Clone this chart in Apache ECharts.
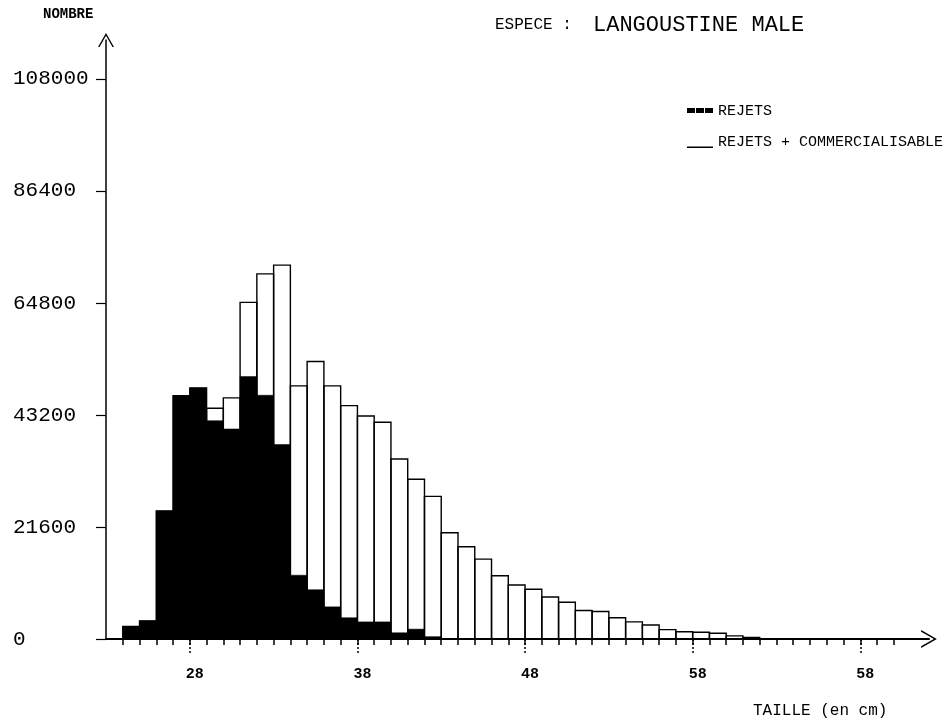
<!DOCTYPE html>
<html>
<head>
<meta charset="utf-8">
<script src="https://cdn.jsdelivr.net/npm/echarts@6/dist/echarts.min.js"></script>
<style>
html,body{margin:0;padding:0;background:#fff;}
#chart{width:949px;height:725px;}
</style>
</head>
<body>
<div id="chart"></div>
<script>
// Size classes (left edge of each 1-unit bin)
const sizes = [24,25,26,27,28,29,30,31,32,33,34,35,36,37,38,39,40,41,42,43,44,45,46,47,48,49,50,51,52,53,54,55,56,57,58,59,60,61];
// Black bars: REJETS
const rejets = [2400,3500,24700,46900,48400,42100,40500,50600,47000,37500,12300,9500,6200,4100,3300,3300,1200,1900,450,0,0,0,0,0,0,0,0,0,0,0,0,0,0,0,0,0,0,0];
// Outlined bars: REJETS + COMMERCIALISABLE
const totals = [2400,3500,24700,46900,48400,44500,46500,64900,70400,72100,48800,53500,48800,45000,43000,41800,34700,30800,27500,20500,17800,15400,12200,10400,9600,8100,7100,5500,5300,4100,3300,2700,1800,1400,1300,1100,600,300];

// Axis ticks and labels
const yTickValues = [0,21600,43200,64800,86400,108000];
const xLabelValues = [28,38,48,58,68];
const xLabelTexts = ['28','38','48','58','58'];
const xMinorTicks = [];
for (let t = 24; t <= 70; t++) xMinorTicks.push(t);

const FONT = 'Liberation Mono';
const arrowPath = 'path://M8,0 L16,14 L14.5,14 L8,2.7 L1.5,14 L0,14 Z';
const iconRejets = 'path://M0,0 L0.01,0 L0.01,12 L0,12 Z M0,3 L8,3 L8,8 L0,8 Z M9,3 L17,3 L17,8 L9,8 Z M18,3 L26,3 L26,8 L18,8 Z';
const iconTotal = 'path://M0,0 L0.01,0 L0.01,12 L0,12 Z M0,10.5 L26,10.5 L26,12 L0,12 Z';

function binRect(api, filled) {
  const x = api.value(0), v = api.value(1);
  if (!(v > 0)) return null;
  const p0 = api.coord([x, 0]);
  const p1 = api.coord([x + 1, v]);
  return {
    type: 'rect',
    shape: { x: p0[0], y: p1[1], width: p1[0] - p0[0], height: p0[1] - p1[1] },
    style: filled ? { fill: '#000', stroke: '#000', lineWidth: 0.5 }
                  : { fill: 'none', stroke: '#000', lineWidth: 1.4 }
  };
}

const chart = echarts.init(document.getElementById('chart'), null, { renderer: 'canvas' });
const option = {
  animation: false,
  backgroundColor: '#fff',
  textStyle: { fontFamily: FONT, color: '#000' },
  title: [
    { text: 'NOMBRE', left: 43, top: 7, padding: 0,
      textStyle: { fontFamily: FONT, fontSize: 14, fontWeight: 'bold', color: '#000' } },
    { text: 'ESPECE :', left: 495, top: 17, padding: 0,
      textStyle: { fontFamily: FONT, fontSize: 16, fontWeight: 'normal', color: '#000' } },
    { text: 'LANGOUSTINE MALE', left: 593, top: 14, padding: 0,
      textStyle: { fontFamily: FONT, fontSize: 22, fontWeight: 'normal', color: '#000' } },
    { text: 'TAILLE (en cm)', left: 753, top: 703, padding: 0,
      textStyle: { fontFamily: FONT, fontSize: 16, fontWeight: 'normal', color: '#000' } }
  ],
  legend: {
    orient: 'vertical',
    left: 687,
    top: 103,
    padding: 0,
    itemWidth: 26,
    itemHeight: 12,
    itemGap: 15,
    selectedMode: false,
    textStyle: { fontFamily: FONT, fontSize: 15, color: '#000', lineHeight: 16 },
    data: [
      { name: 'REJETS', icon: iconRejets, itemStyle: { color: '#000' } },
      { name: 'REJETS + COMMERCIALISABLE', icon: iconTotal, itemStyle: { color: '#000' } }
    ]
  },
  grid: { left: 106, right: 20, top: 40, bottom: 86, containLabel: false },
  xAxis: [
    {
      type: 'value', min: 23, max: 72.1, position: 'bottom',
      axisLine: { show: true, lineStyle: { color: '#000', width: 2 },
                  symbol: ['none', arrowPath], symbolSize: [18, 16] },
      axisTick: { show: true, customValues: xMinorTicks, length: 6,
                  lineStyle: { color: '#000', width: 1.5 } },
      axisLabel: { show: false },
      splitLine: { show: false }
    },
    {
      type: 'value', min: 23, max: 72.1, position: 'bottom',
      axisLine: { show: false },
      axisTick: { show: true, customValues: xLabelValues, length: 16,
                  lineStyle: { color: '#000', width: 1.5, type: [2, 2] } },
      axisLabel: {
        show: true, customValues: xLabelValues,
        formatter: function (v) { const i = xLabelValues.indexOf(v); return i >= 0 ? xLabelTexts[i] : ''; },
        margin: 28, padding: [0, 0, 0, 10],
        fontFamily: FONT, fontSize: 15, fontWeight: 'bold', color: '#000'
      },
      splitLine: { show: false }
    }
  ],
  yAxis: {
    type: 'value', min: 0, max: 115500, interval: 21600,
    axisLine: { show: true, lineStyle: { color: '#000', width: 1.5 },
                symbol: ['none', arrowPath], symbolSize: [16, 16] },
    axisTick: { show: true, customValues: yTickValues, length: 10,
                lineStyle: { color: '#000', width: 1.2 } },
    axisLabel: {
      customValues: yTickValues,
      formatter: function (v) { return String(v); },
      align: 'left', margin: 93, padding: [0, 0, 10, 0],
      fontFamily: FONT, fontSize: 21, color: '#000'
    },
    splitLine: { show: false }
  },
  series: [
    {
      name: 'REJETS + COMMERCIALISABLE',
      type: 'custom',
      xAxisIndex: 0, yAxisIndex: 0,
      renderItem: function (params, api) { return binRect(api, false); },
      encode: { x: 0, y: 1 },
      data: sizes.map(function (s, i) { return [s, totals[i]]; }),
      z: 2
    },
    {
      name: 'REJETS',
      type: 'custom',
      xAxisIndex: 0, yAxisIndex: 0,
      renderItem: function (params, api) { return binRect(api, true); },
      encode: { x: 0, y: 1 },
      data: sizes.map(function (s, i) { return [s, rejets[i]]; }),
      z: 3
    }
  ]
};
chart.setOption(option);
</script>
</body>
</html>
